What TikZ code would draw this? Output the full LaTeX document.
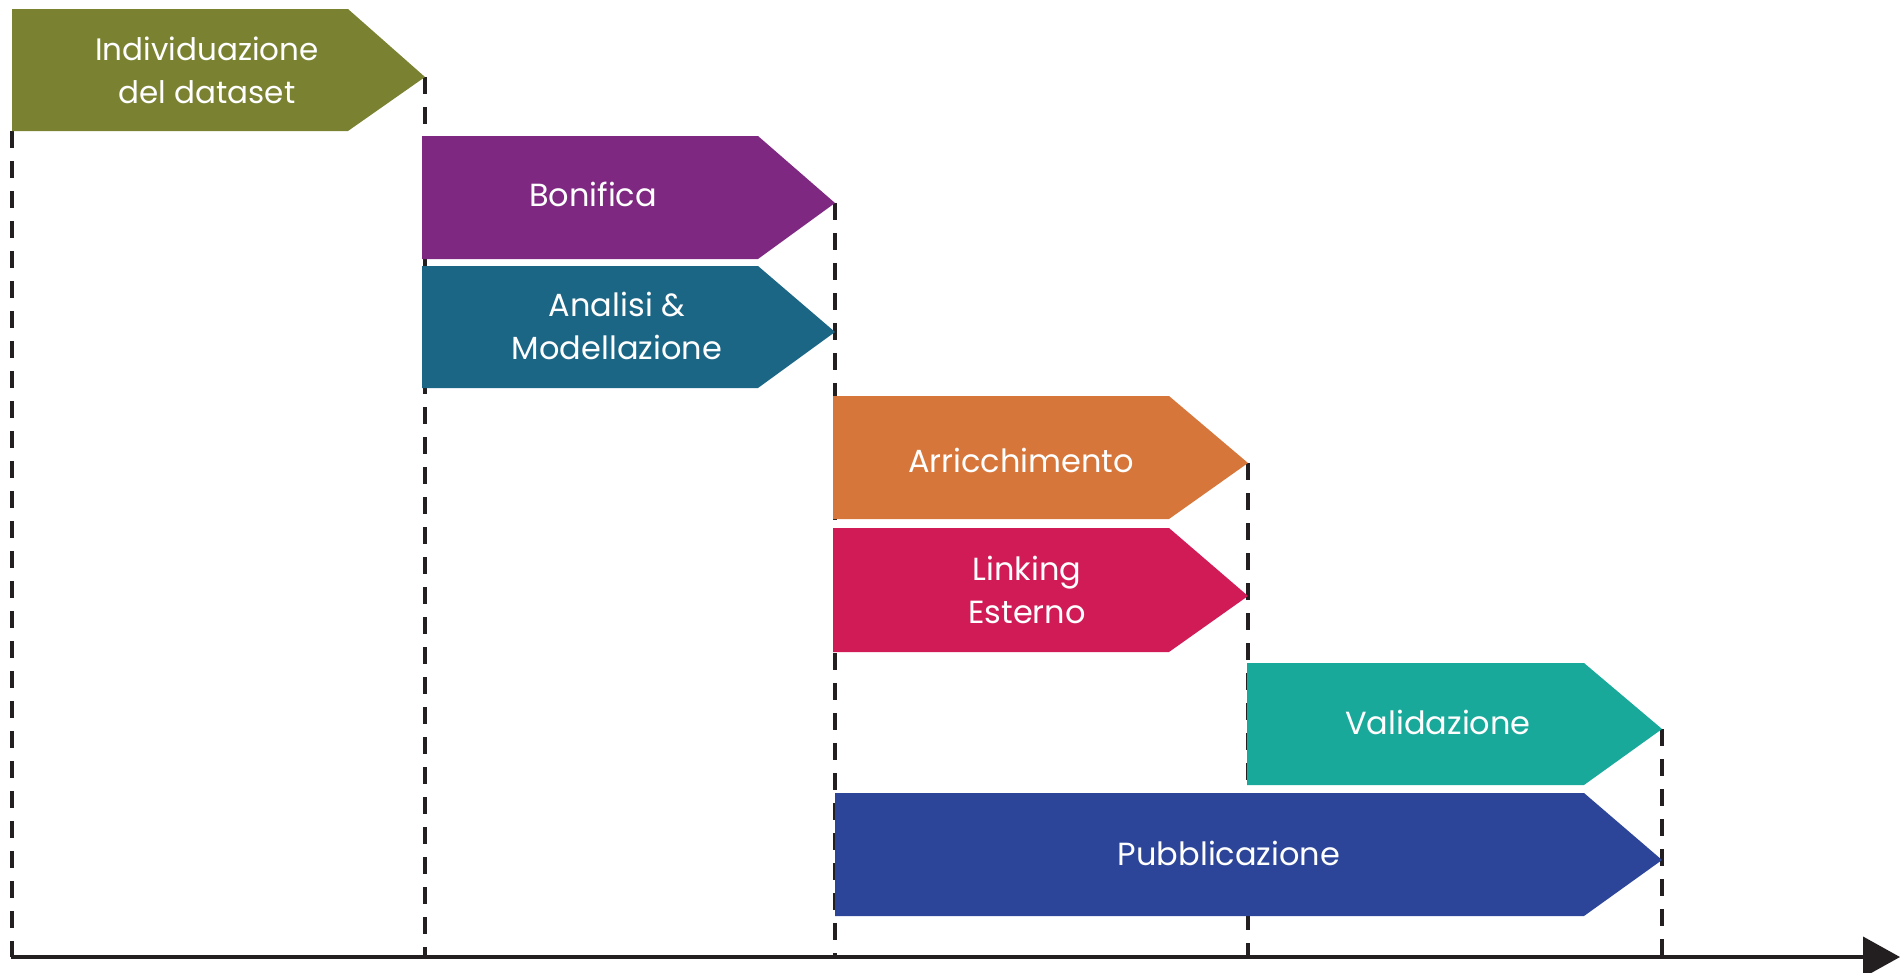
\documentclass[tikz,border=0pt]{standalone}
\usepackage{fontspec}
\setmainfont{Poppins}
\usetikzlibrary{arrows.meta}
\definecolor{phasegreen}{RGB}{122, 130, 50}
\definecolor{phasepurple}{RGB}{126, 40, 130}
\definecolor{phasepetrol}{RGB}{27, 101, 133}
\definecolor{phaseorange}{RGB}{214, 118, 58}
\definecolor{phasecrimson}{RGB}{209, 27, 87}
\definecolor{phaseteal}{RGB}{25, 169, 154}
\definecolor{phaseblue}{RGB}{44, 69, 153}
\definecolor{axisgray}{RGB}{35, 31, 32}

\tikzset{
    phase text/.style={text=white, align=center, inner sep=0pt, font=\fontsize{32}{43}\selectfont},
    milestone/.style={draw=axisgray, line width=3.3pt, dash pattern=on 17pt off 13pt},
    timeline/.style={draw=axisgray, line width=4pt, -{Triangle[length=37pt, width=40pt]}}
}

\begin{document}
\begin{tikzpicture}[x=1pt, y=-1pt]
    \useasboundingbox (0,0) rectangle (1903,972);

    % Time axis end points
    \coordinate (start) at (11,957);
    \coordinate (end) at (1900,957);

    % Tips of the phases
    \coordinate (indbase) at (12,131);
    \coordinate (indtip) at (425,77);
    \coordinate (bontip) at (835,203);
    \coordinate (anatip) at (835,332);
    \coordinate (arrtip) at (1248,463);
    \coordinate (linktip) at (1248,596);
    \coordinate (valtip) at (1662,729);
    \coordinate (pubtip) at (1662,860);

    % Dashed milestones - behind the phases
    \draw[milestone] (indbase) -- (indbase |- start);
    \draw[milestone] (indtip) -- (indtip |- start);
    \draw[milestone] (bontip) -- (bontip |- start);
    \draw[milestone] (arrtip) -- (arrtip |- start);
    \draw[milestone] (valtip) -- (valtip |- start);

    % Phase 1
    \fill[phasegreen] (12,9) -- (348,9) -- (indtip) -- (348,131) -- (indbase) -- cycle;
    \node[phase text, font=\fontsize{31}{43}\selectfont] (individuazione) at (207,70) {Individuazione\\del dataset};

    % Phase 2
    \fill[phasepurple] (422,136) -- (758,136) -- (bontip) -- (758,259) -- (422,259) -- cycle;
    \node[phase text] (bonifica) at (593,194) {Bonifica};

    \fill[phasepetrol] (422,266) -- (758,266) -- (anatip) -- (758,388) -- (422,388) -- cycle;
    \node[phase text] (analisi) at (617,326) {Analisi \&\\Modellazione};

    % Phase 3
    \fill[phaseorange] (833,396) -- (1169,396) -- (arrtip) -- (1169,519) -- (833,519) -- cycle;
    \node[phase text] (arricchimento) at (1021,460) {Arricchimento};

    \fill[phasecrimson] (833,528) -- (1169,528) -- (linktip) -- (1169,652) -- (833,652) -- cycle;
    \node[phase text] (linking) at (1027,590) {Linking\\Esterno};

    % Phase 4
    \fill[phaseteal] (1247,663) -- (1584,663) -- (valtip) -- (1584,785) -- (1247,785) -- cycle;
    \node[phase text] (validazione) at (1438,722) {Validazione};

    \fill[phaseblue] (835,793) -- (1584,793) -- (pubtip) -- (1584,916) -- (835,916) -- cycle;
    \node[phase text] (pubblicazione) at (1229,853) {Pubblicazione};

    % Time axis
    \draw[timeline] (start) -- (end);
\end{tikzpicture}
\end{document}
